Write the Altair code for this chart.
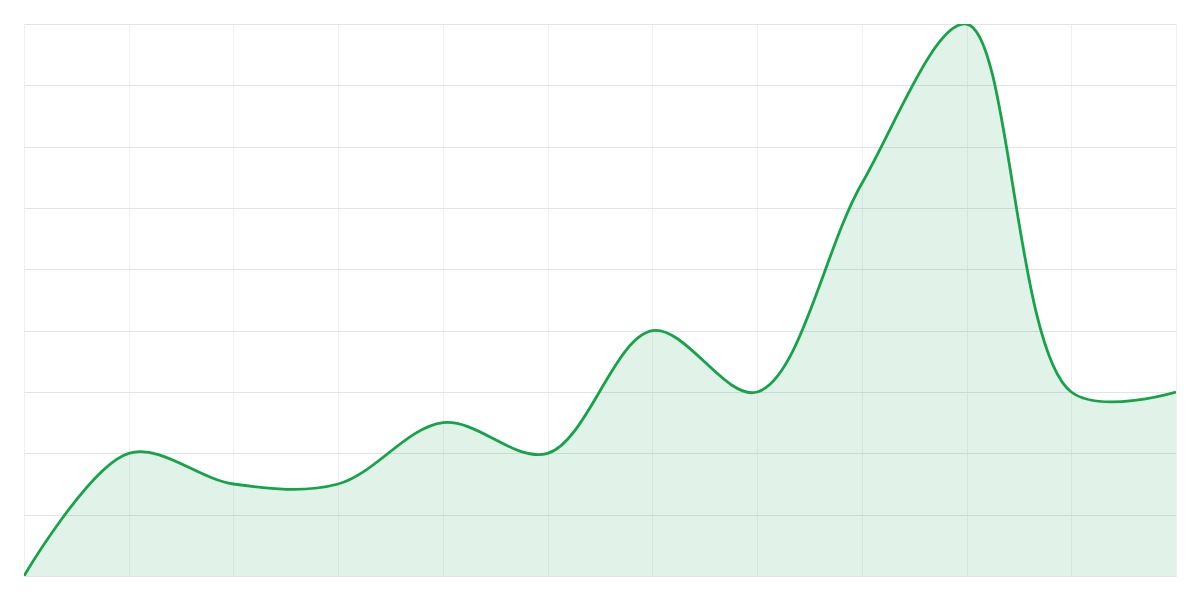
import altair as alt
import pandas as pd

idx = list(range(12))
values = [0, 2, 1.5, 1.5, 2.5, 2, 4, 3, 6.4, 9, 3, 3]

df = pd.DataFrame({"i": idx, "v": values})

x = alt.X("i:Q", scale=alt.Scale(domain=[0, 11], nice=False, zero=False),
          axis=alt.Axis(values=idx, labels=False, ticks=False, domain=False, title=None,
                        grid=True, gridColor="#f0f0f0", gridWidth=1))
y = alt.Y("v:Q", scale=alt.Scale(domain=[0, 9], nice=False),
          axis=alt.Axis(values=list(range(10)), labels=False, ticks=False, domain=False, title=None,
                        grid=True, gridColor="#e4e4e4", gridWidth=1))

area = alt.Chart(df).mark_area(interpolate="catmull-rom", color="#16a34a", opacity=0.13, clip=True).encode(x=x, y=y)
line = alt.Chart(df).mark_line(interpolate="catmull-rom", color="#16a34a", strokeWidth=2.8, clip=True).encode(x=x, y=y)

chart = (area + line).properties(
    width=1152, height=552,
    autosize=alt.AutoSizeParams(type="none"),
    padding={"left": 16, "top": 16, "right": 16, "bottom": 16},
).configure_view(stroke=None)

chart.save("out.html", embed_options={"renderer": "svg", "actions": False})
